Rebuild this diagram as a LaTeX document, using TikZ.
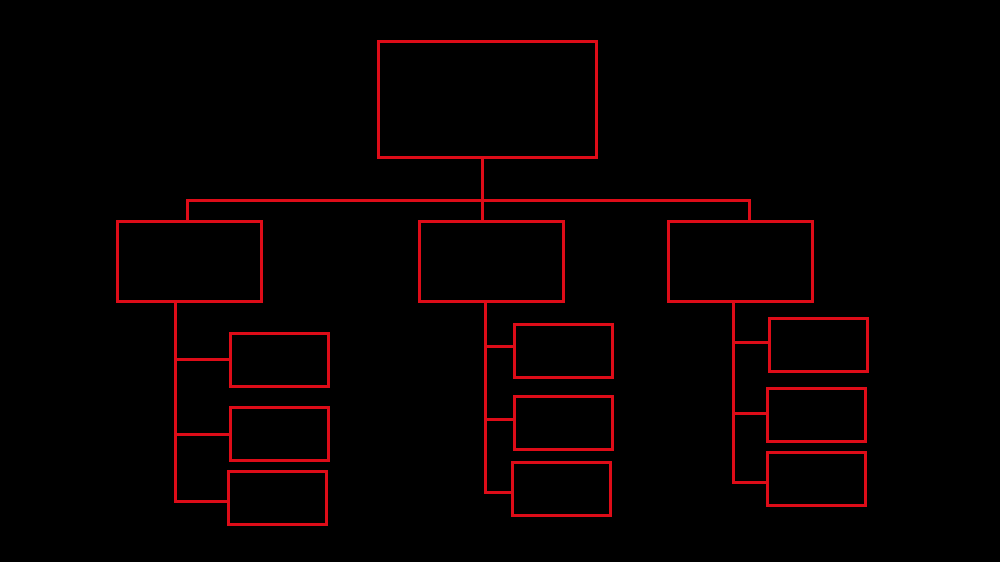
\documentclass[tikz,border=0pt]{standalone}
\usepackage{tikz}
\usetikzlibrary{positioning}
\definecolor{chartred}{RGB}{222,12,24}
\tikzset{%
	box/.style={
		draw=chartred,
		line width=0.3mm,
		rectangle,
		inner sep=0pt
	},
	topbox/.style={box, minimum width=2.18cm, minimum height=1.16cm},
	headbox/.style={box, minimum width=1.44cm, minimum height=0.80cm},
	leafbox/.style={box, minimum width=0.98cm, minimum height=0.53cm},
	link/.style={draw=chartred, line width=0.3mm},
}
\begin{document}
\begin{tikzpicture}
			% Background and frame
			\fill[black] (0,0) rectangle (10,-5.62);
			\useasboundingbox (0,0) rectangle (10,-5.62);
			
			% Top box
			\node[topbox] (top) at (4.87,-0.99) {};
			
			% Second level
			\node[headbox] (left) at (1.895,-2.61) {};
			\node[headbox] (mid) at (4.915,-2.61) {};
			\node[headbox] (right) at (7.405,-2.61) {};
			
			% Leaves under left
			\node[leafbox] (left1) at (2.79,-3.595) {};
			\node[leafbox] (left2) at (2.79,-4.34) {};
			\node[leafbox] (left3) at (2.775,-4.975) {};
			
			% Leaves under mid
			\node[leafbox] (mid1) at (5.635,-3.505) {};
			\node[leafbox] (mid2) at (5.63,-4.225) {};
			\node[leafbox] (mid3) at (5.61,-4.89) {};
			
			% Leaves under right
			\node[leafbox] (right1) at (8.18,-3.45) {};
			\node[leafbox] (right2) at (8.165,-4.15) {};
			\node[leafbox] (right3) at (8.165,-4.785) {};
			
			% Bus from top box to second level
			\coordinate (bus) at (4.82,-2.00);
			\draw[link] (top.south -| bus) -- (bus);
			\draw[link] ([xshift=-0.025cm]left.north) |- (bus);
			\draw[link] (bus) -| ([xshift=0.085cm]right.north);
			\draw[link] (bus) -- (mid.north -| bus);
			
			% Left branch
			\coordinate (ltrunk) at (1.75,-2.61);
			\draw[link] (left.south -| ltrunk) |- ([yshift=-0.035cm]left3.west);
			\draw[link] (left1.west -| ltrunk) -- (left1.west);
			\draw[link] (left2.west -| ltrunk) -- (left2.west);
			
			% Middle branch
			\coordinate (mtrunk) at (4.855,-2.61);
			\draw[link] (mid.south -| mtrunk) |- ([yshift=-0.03cm]mid3.west);
			\draw[link] ([yshift=0.045cm]mid1.west -| mtrunk) -- ([yshift=0.045cm]mid1.west);
			\draw[link] ([yshift=0.035cm]mid2.west -| mtrunk) -- ([yshift=0.035cm]mid2.west);
			
			% Right branch
			\coordinate (rtrunk) at (7.33,-2.61);
			\draw[link] (right.south -| rtrunk) |- ([yshift=-0.035cm]right3.west);
			\draw[link] ([yshift=0.03cm]right1.west -| rtrunk) -- ([yshift=0.03cm]right1.west);
			\draw[link] ([yshift=0.02cm]right2.west -| rtrunk) -- ([yshift=0.02cm]right2.west);
			
		\end{tikzpicture}
\end{document}
